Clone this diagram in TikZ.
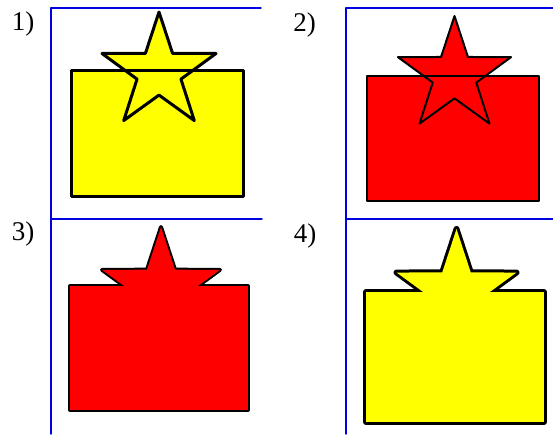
\documentclass[tikz,border=0pt]{standalone}
\usepackage{fontspec}
\setmainfont{Liberation Serif}
\usetikzlibrary{shapes.geometric}
\definecolor{frameblue}{RGB}{0,0,225}
\definecolor{shapeyellow}{RGB}{255,255,0}
\definecolor{shapered}{RGB}{255,0,0}
\tikzset{
  panelframe/.style={frameblue,line width=1.4pt},
  panellabel/.style={font=\fontsize{27}{30}\selectfont,inner sep=0pt},
  starshape/.style={star,star points=5,star point ratio=2.6,inner sep=0pt},
  boxshape/.style={rectangle,inner sep=0pt},
}

\begin{document}
\begin{tikzpicture}[line cap=round,line join=round,x=1pt,y=-1pt]
\useasboundingbox (0,0) rectangle (553,434);
\begin{scope}[shift={(51,8)}]
\draw[panelframe] (0,211) -- (0,0) -- (210,0);
\node[panellabel] (lab1) at (-28,16) {1)};
\node[boxshape,fill=shapeyellow,minimum width=172pt,minimum height=126pt] (box1) at (106,125) {};
\node[starshape,fill=shapeyellow,minimum size=120pt] (star1) at (108,64) {};
\node[boxshape,draw,line width=3pt,minimum width=172pt,minimum height=126pt] (box1line) at (106,125) {};
\node[starshape,draw,line width=3pt,minimum size=120pt] (star1line) at (108,64) {};
\end{scope}
\begin{scope}[shift={(346,8)}]
\draw[panelframe] (0,211) -- (0,0) -- (207,0);
\node[panellabel] (lab2) at (-41.5,17) {2)};
\node[boxshape,fill=shapered,minimum width=172pt,minimum height=125pt] (box2) at (107,130.5) {};
\node[starshape,fill=shapered,minimum size=119pt] (star2) at (108.5,67.5) {};
\node[boxshape,draw,line width=2pt,minimum width=172pt,minimum height=125pt] (box2line) at (107,130.5) {};
\node[starshape,draw,line width=2pt,minimum size=119pt] (star2line) at (108.5,67.5) {};
\end{scope}
\begin{scope}[shift={(51,219)}]
\draw[panelframe] (0,215) -- (0,0) -- (211,0);
\node[panellabel] (lab3) at (-28,15.5) {3)};
\node[starshape,draw,line width=4pt,minimum size=124pt] (star3line) at (110,70) {};
\node[boxshape,draw,line width=4pt,minimum width=178pt,minimum height=124pt] (box3line) at (108,129) {};
\node[starshape,fill=shapered,minimum size=124pt] (star3) at (110,70) {};
\node[boxshape,fill=shapered,minimum width=178pt,minimum height=124pt] (box3) at (108,129) {};
\end{scope}
\begin{scope}[shift={(346,219)}]
\draw[panelframe] (0,215) -- (0,0) -- (207,0);
\node[panellabel] (lab4) at (-41,17.5) {4)};
\node[starshape,draw,line width=6pt,minimum size=126pt] (star4line) at (110.5,73) {};
\node[boxshape,draw,line width=6pt,minimum width=178pt,minimum height=130pt] (box4line) at (109,138) {};
\node[starshape,fill=shapeyellow,minimum size=126pt] (star4) at (110.5,73) {};
\node[boxshape,fill=shapeyellow,minimum width=178pt,minimum height=130pt] (box4) at (109,138) {};
\end{scope}
\end{tikzpicture}
\end{document}
